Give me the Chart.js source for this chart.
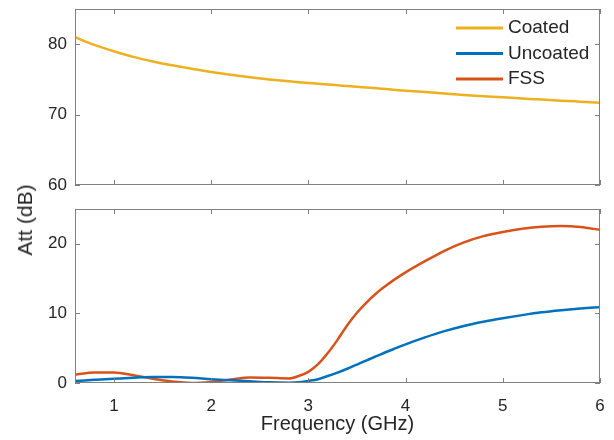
<!DOCTYPE html>
<html>
<head>
<meta charset="utf-8">
<title>Att (dB)</title>
<script src="https://cdn.jsdelivr.net/npm/chart.js@4.4.1/dist/chart.umd.min.js"></script>
<style>
    body { margin: 0; background: #fff; }
    #wrap { position: relative; width: 614px; height: 440px; }
    .panel { position: absolute; left: 0; width: 614px; }
    #ytitle {
        position: absolute; left: 25px; top: 220px;
        transform: translate(-50%, -50%) rotate(-90deg);
        font: 21px "Liberation Sans", Arial, sans-serif;
        color: #262626; white-space: nowrap;
    }
</style>
</head>
<body>
<div id="wrap">
    <div class="panel" style="top:0;height:200px"><canvas id="topChart" width="614" height="200"></canvas></div>
    <div class="panel" style="top:200px;height:240px"><canvas id="bottomChart" width="614" height="240"></canvas></div>
    <div id="ytitle">Att (dB)</div>
</div>
<script>
"use strict";
const freq = [0.6, 0.8, 1.0, 1.2, 1.4, 1.6, 1.8, 2.0, 2.2, 2.4, 2.6, 2.8, 2.9, 3.0, 3.1, 3.2, 3.3, 3.4,
    3.5, 3.6, 3.7, 3.8, 3.9, 4.0, 4.2, 4.4, 4.6, 4.8, 5.0, 5.2, 5.4, 5.6, 5.8, 6.0];
const coated = [81.0, 79.9, 79.0, 78.2, 77.55, 77.0, 76.5, 76.05, 75.65, 75.3, 75.0, 74.73, 74.61, 74.5, 74.39,
    74.28, 74.17, 74.06, 73.95, 73.84, 73.73, 73.62, 73.51, 73.4, 73.2, 73.0, 72.8, 72.62, 72.45, 72.29,
    72.13, 71.98, 71.84, 71.7];
const uncoated = [0.3, 0.45, 0.6, 0.75, 0.85, 0.85, 0.75, 0.55, 0.4, 0.25, 0.1, 0.05, 0.1, 0.3, 0.55, 1.0, 1.5,
    2.05, 2.65, 3.25, 3.85, 4.45, 5.0, 5.55, 6.55, 7.45, 8.2, 8.8, 9.3, 9.75, 10.15, 10.45, 10.7, 10.9];
const fss = [1.2, 1.5, 1.5, 1.1, 0.6, 0.2, 0.0, 0.15, 0.5, 0.8, 0.75, 0.65, 1.0, 1.6, 2.7, 4.3, 6.2,
    8.3, 10.1, 11.6, 12.9, 14.0, 15.0, 15.9, 17.5, 19.0, 20.2, 21.1, 21.7, 22.15, 22.45, 22.55, 22.4, 22.0];

const xTicks = [1, 2, 3, 4, 5, 6];
const topTicks = [60, 70, 80];
const bottomTicks = [0, 10, 20];
const seriesNames = ['Coated', 'Uncoated', 'FSS'];
const seriesColors = ['#EDB120', '#0072BD', '#D95319'];

const axisColor = '#808080';
const textColor = '#262626';
Chart.defaults.font.family = '"Liberation Sans", Arial, sans-serif';
Chart.defaults.color = textColor;

const points = ys => freq.map((f, i) => ({ x: f, y: ys[i] }));

// box around the plot area with MATLAB style inward ticks on all four sides
const framePlugin = {
    id: 'frame',
    afterDraw(chart) {
        const { ctx, chartArea: a, scales } = chart;
        const len = 5;
        ctx.save();
        ctx.strokeStyle = axisColor;
        ctx.lineWidth = 1;
        ctx.strokeRect(Math.round(a.left) + 0.5, Math.round(a.top) + 0.5,
            Math.round(a.width) - 1, Math.round(a.height) - 1);
        ctx.beginPath();
        scales.x.ticks.forEach(t => {
            const px = Math.round(scales.x.getPixelForValue(t.value)) + 0.5;
            ctx.moveTo(px, a.bottom); ctx.lineTo(px, a.bottom - len);
            ctx.moveTo(px, a.top); ctx.lineTo(px, a.top + len);
        });
        scales.y.ticks.forEach(t => {
            const py = Math.round(scales.y.getPixelForValue(t.value)) + 0.5;
            ctx.moveTo(a.left, py); ctx.lineTo(a.left + len, py);
            ctx.moveTo(a.right, py); ctx.lineTo(a.right - len, py);
        });
        ctx.stroke();
        ctx.restore();
    }
};

// legend sits inside the upper panel, top right corner
const insideLegend = {
    id: 'insideLegend',
    afterDraw(chart) {
        const { ctx, chartArea } = chart;
        const textX = chartArea.right - 92;
        ctx.save();
        ctx.font = '19px "Liberation Sans", Arial, sans-serif';
        ctx.textBaseline = 'middle';
        ctx.textAlign = 'left';
        seriesNames.forEach((name, i) => {
            const y = chartArea.top + 19 + i * 25.5;
            ctx.strokeStyle = seriesColors[i];
            ctx.lineWidth = 3;
            ctx.beginPath();
            ctx.moveTo(textX - 52, y);
            ctx.lineTo(textX - 5, y);
            ctx.stroke();
            ctx.fillStyle = textColor;
            ctx.fillText(name, textX, y);
        });
        ctx.restore();
    }
};

function lineSet(label, ys, color) {
    return {
        label: label,
        data: points(ys),
        borderColor: color,
        backgroundColor: color,
        borderWidth: 2.5,
        pointRadius: 0,
        cubicInterpolationMode: 'monotone',
        fill: false
    };
}

function makeOptions(yMin, yMax, yTickList, bottomPanel) {
    return {
        responsive: false,
        animation: false,
        layout: { padding: { left: 0, right: 14, top: 9, bottom: bottomPanel ? 0 : 15 } },
        plugins: { legend: { display: false }, tooltip: { enabled: false } },
        scales: {
            x: {
                type: 'linear',
                min: 0.6,
                max: 6,
                grid: { display: false, drawTicks: false },
                border: { display: false },
                afterBuildTicks: scale => { scale.ticks = xTicks.map(v => ({ value: v })); },
                afterFit: scale => {
                    scale.height = bottomPanel ? 57 : 0;
                    scale.paddingLeft = 0;
                    scale.paddingRight = 0;
                },
                ticks: {
                    display: bottomPanel,
                    padding: 13,
                    maxRotation: 0,
                    color: textColor,
                    font: { size: 17 }
                },
                title: {
                    display: bottomPanel,
                    text: 'Frequency (GHz)',
                    color: textColor,
                    font: { size: 20 },
                    padding: { top: 0, bottom: 4 }
                }
            },
            y: {
                min: yMin,
                max: yMax,
                grid: { display: false, drawTicks: false },
                border: { display: false },
                afterBuildTicks: scale => { scale.ticks = yTickList.map(v => ({ value: v })); },
                afterFit: scale => {
                    scale.width = 75;
                    scale.paddingTop = 0;
                    scale.paddingBottom = 0;
                },
                ticks: { padding: 8, color: textColor, font: { size: 17 } }
            }
        }
    };
}

new Chart(document.getElementById('topChart'), {
    type: 'line',
    data: { datasets: [lineSet(seriesNames[0], coated, seriesColors[0])] },
    options: makeOptions(60, 85, topTicks, false),
    plugins: [framePlugin, insideLegend]
});

new Chart(document.getElementById('bottomChart'), {
    type: 'line',
    data: {
        datasets: [
            lineSet(seriesNames[1], uncoated, seriesColors[1]),
            lineSet(seriesNames[2], fss, seriesColors[2])
        ]
    },
    options: makeOptions(0, 25, bottomTicks, true),
    plugins: [framePlugin]
});
</script>
</body>
</html>
